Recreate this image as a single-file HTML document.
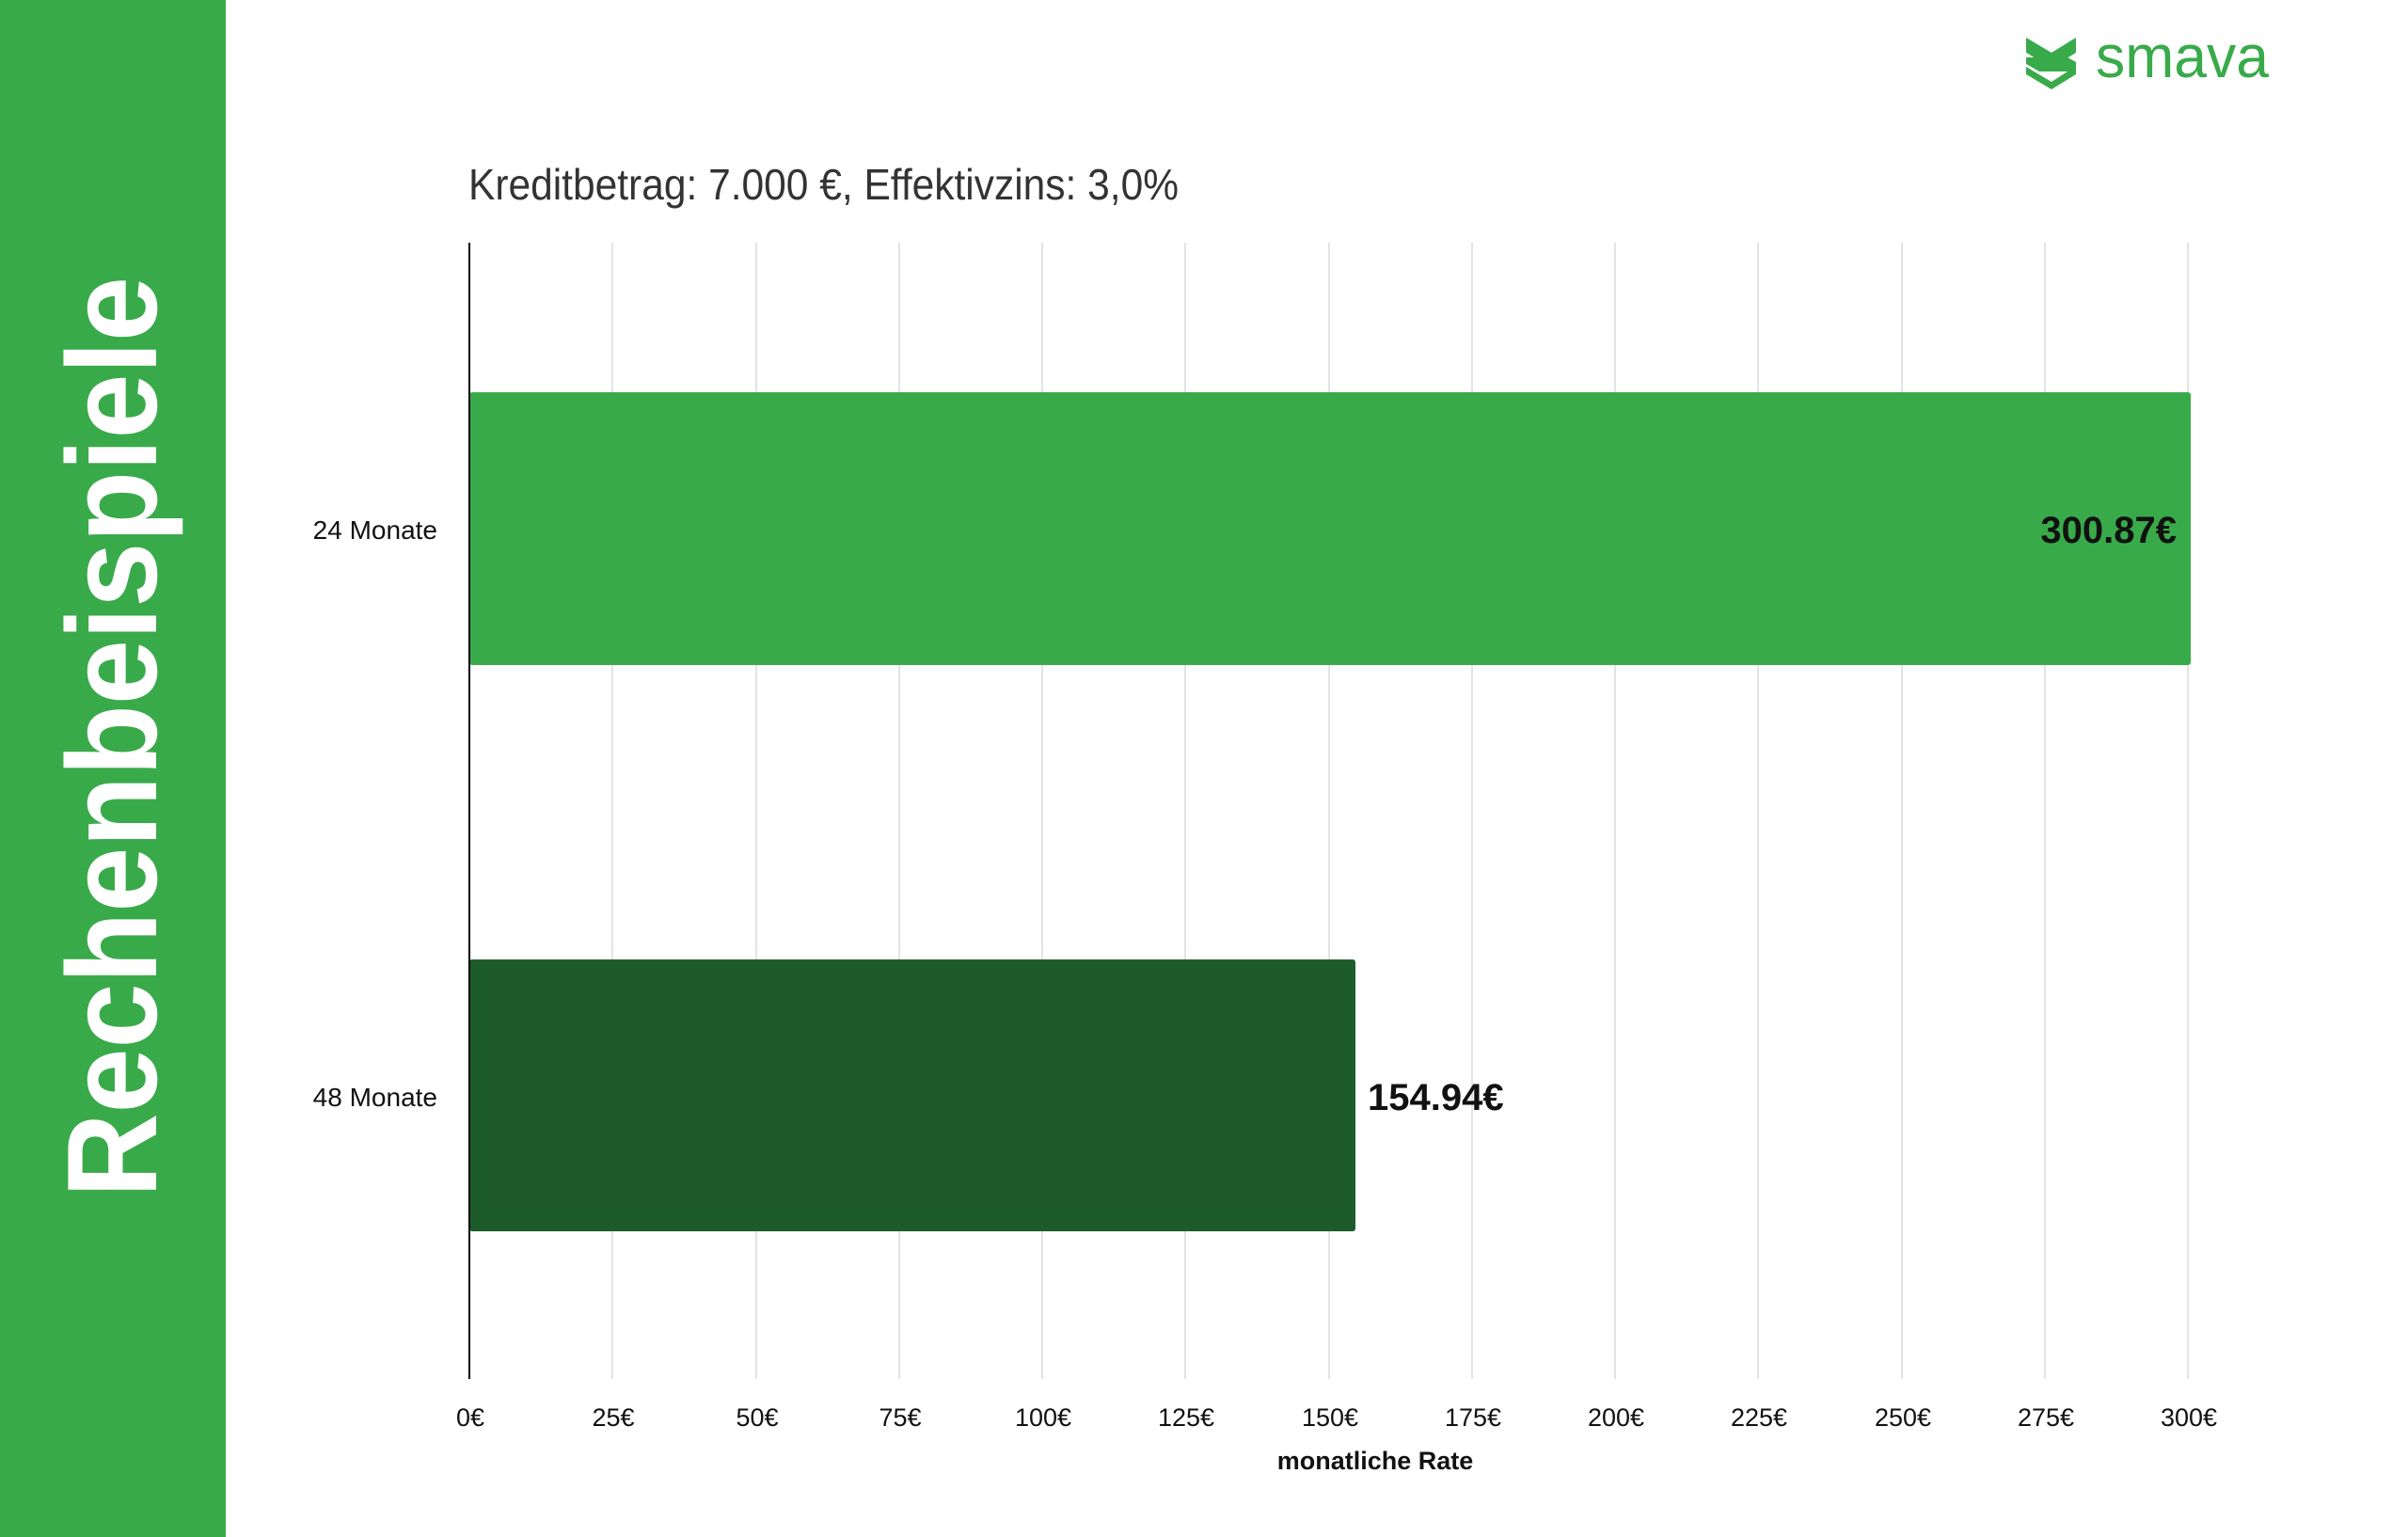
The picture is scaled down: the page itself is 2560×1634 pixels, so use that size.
<!DOCTYPE html>
<html><head><meta charset="utf-8"><style>html,body{margin:0;padding:0;background:#fff}svg{display:block}</style></head>
<body>
<svg width="2560" height="1634" viewBox="0 0 2560 1634" xmlns="http://www.w3.org/2000/svg" font-family="Liberation Sans, sans-serif">
<rect x="0" y="0" width="240" height="1634" fill="#39aa4a"/>
<text transform="translate(166,1273) rotate(-90)" font-size="136" font-weight="bold" fill="#fff" textLength="979" lengthAdjust="spacingAndGlyphs">Rechenbeispiele</text>
<g fill="#39aa4a">
<polygon points="2154,40 2181,56 2207,40 2207,56 2181,72 2154,56"/>
<polygon points="2154,61 2198,61 2207,66 2207,79 2181,95 2154,79 2154,71 2181,87 2198,76 2168,76 2154,68"/>
</g>
<text x="2228" y="82" font-size="64" fill="#39aa4a" textLength="184" lengthAdjust="spacingAndGlyphs">smava</text>
<text x="498" y="212" font-size="46" fill="#333" textLength="755" lengthAdjust="spacingAndGlyphs">Kreditbetrag: 7.000 €, Effektivzins: 3,0%</text>
<g stroke="#e3e3e3" stroke-width="2">
<line x1="651" y1="258" x2="651" y2="1466"/><line x1="804" y1="258" x2="804" y2="1466"/><line x1="956" y1="258" x2="956" y2="1466"/><line x1="1108" y1="258" x2="1108" y2="1466"/><line x1="1260" y1="258" x2="1260" y2="1466"/><line x1="1413" y1="258" x2="1413" y2="1466"/><line x1="1565" y1="258" x2="1565" y2="1466"/><line x1="1717" y1="258" x2="1717" y2="1466"/><line x1="1869" y1="258" x2="1869" y2="1466"/><line x1="2022" y1="258" x2="2022" y2="1466"/><line x1="2174" y1="258" x2="2174" y2="1466"/><line x1="2326" y1="258" x2="2326" y2="1466"/>
</g>
<rect x="499" y="417" width="1830" height="290" rx="3" fill="#39aa4a"/>
<rect x="499" y="1020" width="942" height="289" rx="3" fill="#1e5b2a"/>
<line x1="499" y1="258" x2="499" y2="1466" stroke="#000" stroke-width="2"/>
<g font-size="28" fill="#111" text-anchor="end">
<text x="465" y="573">24 Monate</text>
<text x="465" y="1176">48 Monate</text>
</g>
<text x="2314" y="577" font-size="40" font-weight="bold" fill="#111" text-anchor="end">300.87€</text>
<text x="1454" y="1180" font-size="40" font-weight="bold" fill="#111">154.94€</text>
<g font-size="27" fill="#111" text-anchor="middle">
<text x="500" y="1516">0€</text><text x="652" y="1516">25€</text><text x="805" y="1516">50€</text><text x="957" y="1516">75€</text><text x="1109" y="1516">100€</text><text x="1261" y="1516">125€</text><text x="1414" y="1516">150€</text><text x="1566" y="1516">175€</text><text x="1718" y="1516">200€</text><text x="1870" y="1516">225€</text><text x="2023" y="1516">250€</text><text x="2175" y="1516">275€</text><text x="2327" y="1516">300€</text>
</g>
<text x="1462" y="1562" font-size="27" font-weight="bold" fill="#111" text-anchor="middle">monatliche Rate</text>
</svg>
</body></html>
